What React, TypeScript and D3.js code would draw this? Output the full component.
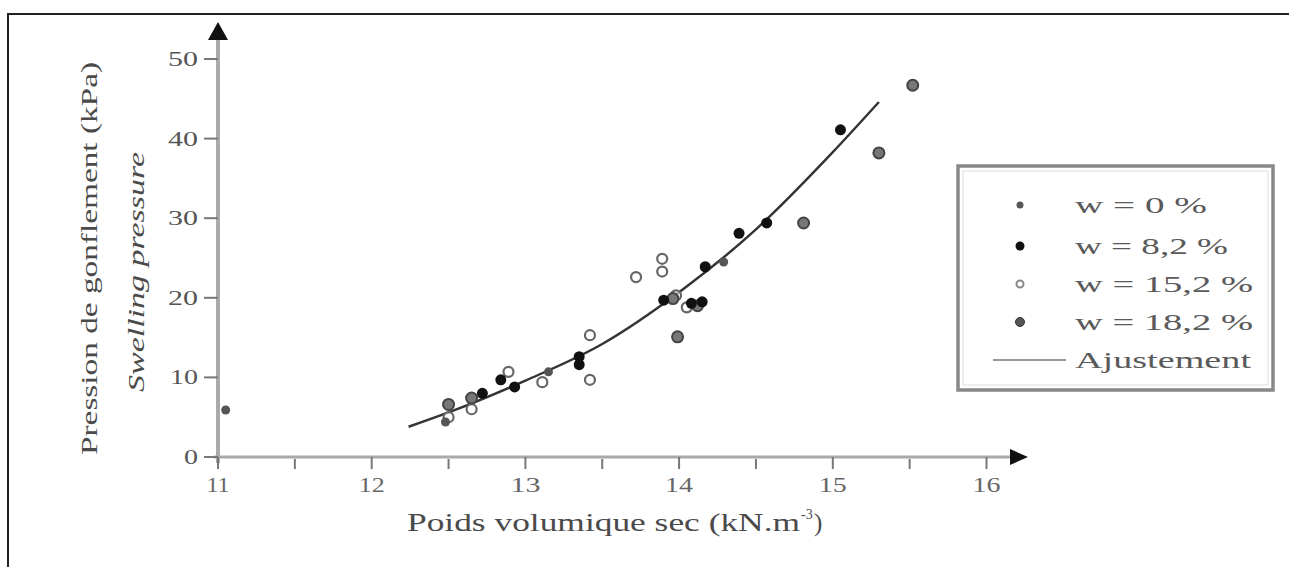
import React from "react";
import * as d3 from "d3";

// ---- data ----
const xTicks = [11, 12, 13, 14, 15, 16];
const xMinor = [11.5, 12.5, 13.5, 14.5, 15.5];
const yTicks = [0, 10, 20, 30, 40, 50];

const w0X = [11.05, 14.29, 12.48, 13.15];
const w0Y = [5.9, 24.5, 4.4, 10.7];

const w82X = [15.05, 14.57, 14.39, 14.17, 13.9, 14.08, 14.15, 13.35, 13.35, 12.93, 12.84, 12.72];
const w82Y = [41.1, 29.4, 28.1, 23.9, 19.7, 19.3, 19.5, 12.6, 11.6, 8.8, 9.7, 8.0];

const w152X = [13.72, 13.89, 13.89, 13.98, 13.42, 13.42, 13.11, 12.89, 12.5, 12.65, 14.05];
const w152Y = [22.6, 24.9, 23.3, 20.3, 15.3, 9.7, 9.4, 10.7, 5.0, 6.0, 18.8];

const w182X = [15.52, 15.3, 14.81, 13.99, 12.5, 12.65, 14.12, 13.96];
const w182Y = [46.7, 38.2, 29.4, 15.1, 6.6, 7.4, 19.0, 19.9];

const fitX = [12.24, 12.5, 13.0, 13.5, 14.0, 14.5, 15.0, 15.3];
const fitY = [3.8, 5.6, 9.6, 14.2, 20.7, 28.6, 38.3, 44.6];

const legendLabels = ["w = 0 %", "w = 8,2 %", "w = 15,2 %", "w = 18,2 %", "Ajustement"];
const legendWidths = [132, 153, 178, 178, 176];

const x = d3.scaleLinear().domain([11, 16]).range([218, 986.5]);
const y = d3.scaleLinear().domain([0, 50]).range([457, 59]);

const FONT = "'Liberation Serif', 'DejaVu Serif', serif";

export default function App() {
  const fitLine = d3
    .line<number>()
    .x((_, i) => x(fitX[i]))
    .y((_, i) => y(fitY[i]))
    .curve(d3.curveMonotoneX)(fitX) as string;

  const tickW: Record<number, number> = { 0: 14, 10: 28, 20: 30, 30: 30, 40: 30, 50: 30 };
  const xLabW: Record<number, number> = { 11: 23, 12: 26, 13: 30, 14: 28, 15: 28, 16: 28 };

  const legY = [205, 246, 284, 322, 360];

  return (
    <svg width={1289} height={567} style={{ position: "absolute", left: 0, top: 0 }}>
      <rect x={0} y={0} width={1289} height={567} fill="#fff" />
      {/* outer frame */}
      <rect x={8} y={14} width={1400} height={700} fill="none" stroke="#222" strokeWidth={2} />

      {/* axes */}
      <line x1={x(11)} y1={y(0) + 6} x2={x(11)} y2={34} stroke="#aaa" strokeWidth={4} />
      <line x1={x(11) - 4} y1={y(0)} x2={1012} y2={y(0)} stroke="#aaa" strokeWidth={3} />
      <path d={`M${x(11)},22 L${x(11) + 10},40 L${x(11) - 10},40 Z`} fill="#111" />
      <path d={`M1028,${y(0)} L1010,${y(0) - 8} L1010,${y(0) + 8} Z`} fill="#111" />

      {yTicks.map((t) => (
        <g key={"y" + t}>
          <line x1={x(11) - 14} x2={x(11)} y1={y(t)} y2={y(t)} stroke="#777" strokeWidth={2} />
          <text
            x={x(11) - 20}
            y={y(t) + 7}
            textAnchor="end"
            fontFamily={FONT}
            fontSize={20}
            fill="#555"
            textLength={tickW[t]}
            lengthAdjust="spacingAndGlyphs"
          >
            {t}
          </text>
        </g>
      ))}

      {xTicks.map((t) => (
        <g key={"x" + t}>
          <line x1={x(t)} x2={x(t)} y1={y(0)} y2={y(0) + 12} stroke="#777" strokeWidth={2} />
          <text
            x={x(t) - xLabW[t] / 2}
            y={y(0) + 35}
            fontFamily={FONT}
            fontSize={20}
            fill="#666"
            textLength={xLabW[t]}
            lengthAdjust="spacingAndGlyphs"
          >
            {t}
          </text>
        </g>
      ))}
      {xMinor.map((t) => (
        <line key={"m" + t} x1={x(t)} x2={x(t)} y1={y(0) + 2} y2={y(0) + 12} stroke="#777" strokeWidth={2} />
      ))}

      {/* axis titles */}
      <text
        x={407}
        y={531}
        fontFamily={FONT}
        fontSize={25}
        fill="#4a4a4a"
        textLength={393}
        lengthAdjust="spacingAndGlyphs"
      >
        Poids volumique sec (kN.m
      </text>
      <text x={801} y={519} fontFamily={FONT} fontSize={14} fill="#4a4a4a">
        -3
      </text>
      <text x={814} y={531} fontFamily={FONT} fontSize={25} fill="#4a4a4a">
        )
      </text>

      <text
        transform="translate(97,455) rotate(-90)"
        fontFamily={FONT}
        fontSize={24}
        fill="#4a4a4a"
        textLength={393}
        lengthAdjust="spacingAndGlyphs"
      >
        Pression de gonflement (kPa)
      </text>
      <text
        transform="translate(144,392) rotate(-90)"
        fontFamily={FONT}
        fontSize={24}
        fontStyle="italic"
        fill="#4a4a4a"
        textLength={240}
        lengthAdjust="spacingAndGlyphs"
      >
        Swelling pressure
      </text>

      {/* fit line */}
      <path d={fitLine} fill="none" stroke="#333" strokeWidth={2.4} />

      {/* data */}
      {w152X.map((v, i) => (
        <circle key={"c" + i} cx={x(v)} cy={y(w152Y[i])} r={5} fill="#fff" fillOpacity={0.6} stroke="#666" strokeWidth={2.2} />
      ))}
      {w182X.map((v, i) => (
        <circle key={"d" + i} cx={x(v)} cy={y(w182Y[i])} r={5.5} fill="#777" stroke="#444" strokeWidth={2} />
      ))}
      {w0X.map((v, i) => (
        <circle key={"a" + i} cx={x(v)} cy={y(w0Y[i])} r={4.5} fill="#555" />
      ))}
      {w82X.map((v, i) => (
        <circle key={"b" + i} cx={x(v)} cy={y(w82Y[i])} r={5.5} fill="#111" />
      ))}

      {/* legend */}
      <rect x={958} y={166} width={315} height={224} fill="#fff" stroke="#888" strokeWidth={3.5} />
      <rect x={963} y={171} width={305} height={214} fill="none" stroke="#ddd" strokeWidth={1} />
      <circle cx={1020} cy={legY[0]} r={3.5} fill="#555" />
      <circle cx={1020} cy={legY[1]} r={4.5} fill="#111" />
      <circle cx={1020} cy={legY[2]} r={3.5} fill="#fff" stroke="#888" strokeWidth={2} />
      <circle cx={1020} cy={legY[3]} r={4.5} fill="#555" stroke="#333" strokeWidth={1} />
      <line x1={993} x2={1066} y1={legY[4]} y2={legY[4]} stroke="#999" strokeWidth={2} />
      {legendLabels.map((l, i) => (
        <text
          key={l}
          x={1075}
          y={legY[i] + 8}
          fontFamily={FONT}
          fontSize={23}
          fill="#5a5a5a"
          textLength={legendWidths[i]}
          lengthAdjust="spacingAndGlyphs"
        >
          {l}
        </text>
      ))}
    </svg>
  );
}
